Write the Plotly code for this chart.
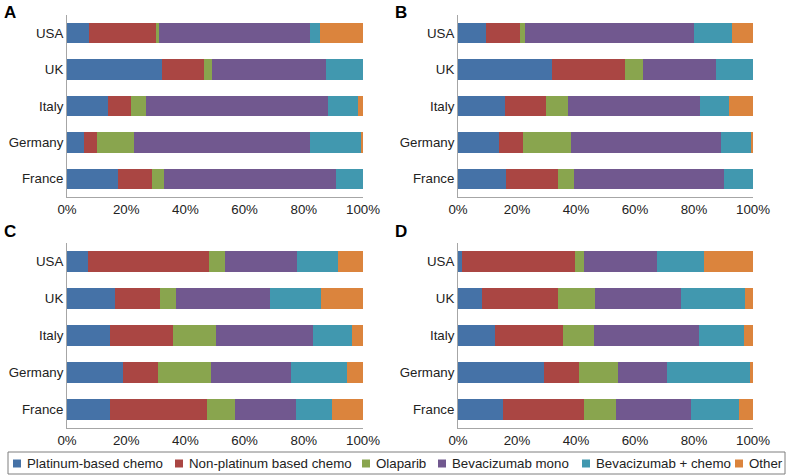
import plotly.graph_objects as go

countries = ["USA", "UK", "Italy", "Germany", "France"]
series_names = ["Platinum-based chemo", "Non-platinum based chemo", "Olaparib",
                "Bevacizumab mono", "Bevacizumab + chemo", "Other"]
colors = ["#4572A7", "#AA4643", "#89A54E", "#71588F", "#4198AF", "#DB843D"]

# values per series, countries in order USA, UK, Italy, Germany, France (percent)
A_platinum = [7.5, 32.1, 13.9, 5.8, 17.1]
A_nonplat = [22.6, 14.2, 7.6, 4.4, 11.7]
A_olaparib = [1.0, 2.7, 5.1, 12.4, 3.9]
A_bevmono = [51.0, 38.5, 61.5, 59.5, 58.2]
A_bevchemo = [3.5, 12.5, 10.2, 17.5, 9.1]
A_other = [14.4, 0.0, 1.7, 0.4, 0.0]

B_platinum = [9.6, 31.8, 15.8, 13.8, 16.3]
B_nonplat = [11.5, 24.7, 14.1, 8.2, 17.7]
B_olaparib = [1.7, 6.1, 7.5, 16.4, 5.3]
B_bevmono = [57.1, 24.8, 44.8, 50.9, 50.8]
B_bevchemo = [13.0, 12.6, 9.7, 10.2, 9.9]
B_other = [7.1, 0.0, 8.1, 0.5, 0.0]

C_platinum = [7.0, 16.2, 14.4, 18.8, 14.5]
C_nonplat = [41.1, 15.3, 21.3, 12.0, 32.9]
C_olaparib = [5.2, 5.3, 14.6, 17.8, 9.3]
C_bevmono = [24.4, 31.9, 32.8, 27.0, 20.7]
C_bevchemo = [13.9, 17.0, 13.1, 18.9, 12.0]
C_other = [8.4, 14.3, 3.8, 5.5, 10.6]

D_platinum = [1.2, 8.3, 12.4, 29.1, 15.2]
D_nonplat = [38.5, 25.6, 23.1, 11.9, 27.4]
D_olaparib = [2.9, 12.6, 10.6, 13.4, 11.0]
D_bevmono = [25.0, 29.2, 35.7, 16.4, 25.3]
D_bevchemo = [15.7, 21.6, 15.1, 28.2, 16.2]
D_other = [16.7, 2.7, 3.1, 1.0, 4.9]

panels = {
    "A": [A_platinum, A_nonplat, A_olaparib, A_bevmono, A_bevchemo, A_other],
    "B": [B_platinum, B_nonplat, B_olaparib, B_bevmono, B_bevchemo, B_other],
    "C": [C_platinum, C_nonplat, C_olaparib, C_bevmono, C_bevchemo, C_other],
    "D": [D_platinum, D_nonplat, D_olaparib, D_bevmono, D_bevchemo, D_other],
}
x_ticks = [0, 20, 40, 60, 80, 100]
x_tick_labels = ["0%", "20%", "40%", "60%", "80%", "100%"]

W, H = 790, 476
FONT = "Liberation Sans, Arial, sans-serif"
FS = 13.3

def fx(px):
    return px / W
def fy(py):
    return 1 - py / H

domains = {
    "A": ([67, 363], [15, 197]),
    "B": ([458, 753], [15, 197]),
    "C": ([67, 363], [243, 428]),
    "D": ([458, 753], [243, 428]),
}

fig = go.Figure()
layout = {}
for i, (label, vals) in enumerate(panels.items()):
    n = "" if i == 0 else str(i + 1)
    for s, (name, col, v) in enumerate(zip(series_names, colors, vals)):
        fig.add_trace(go.Bar(
            x=v, y=countries, orientation="h", name=name,
            marker=dict(color=col, line=dict(width=0)),
            xaxis="x" + n, yaxis="y" + n,
            legendgroup=name, showlegend=False,
            hovertemplate="%{y}: %{x}%<extra>" + name + "</extra>",
        ))
    (x0, x1), (y0, y1) = domains[label]
    layout["xaxis" + n] = dict(
        domain=[fx(x0), fx(x1)], anchor="y" + n, range=[0, 100],
        tickmode="array", tickvals=x_ticks, ticktext=x_tick_labels,
        showgrid=False, zeroline=False, automargin=False,
        showline=True, linecolor="#A6A6A6", linewidth=1,
        tickfont=dict(size=FS, color="#222"), fixedrange=True,
    )
    layout["yaxis" + n] = dict(
        domain=[fy(y1), fy(y0)], anchor="x" + n, autorange="reversed",
        showgrid=False, showline=True, linecolor="#A6A6A6", linewidth=1,
        tickfont=dict(size=FS, color="#222"), ticks="", ticklen=0,
        fixedrange=True, automargin=False,
    )

annotations = []
shapes = []
label_pos = {"A": (2, 12), "B": (393, 12), "C": (2, 231), "D": (393, 231)}
for label, (px, py) in label_pos.items():
    annotations.append(dict(
        text="<b>" + label + "</b>", x=fx(px), y=fy(py), xref="paper", yref="paper",
        xanchor="left", yanchor="middle", showarrow=False,
        font=dict(size=17, color="#000", family=FONT),
    ))

# legend drawn as a single row inside a box
shapes.append(dict(type="rect", xref="paper", yref="paper",
                   x0=fx(8), x1=fx(785), y0=fy(474), y1=fy(452),
                   line=dict(color="#7F7F7F", width=1), fillcolor="white"))
legend_sq_x = [13, 175, 362, 438, 582, 735]
ly = 463.5
for name, col, sx in zip(series_names, colors, legend_sq_x):
    shapes.append(dict(type="rect", xref="paper", yref="paper",
                       x0=fx(sx), x1=fx(sx + 8), y0=fy(ly + 4), y1=fy(ly - 4),
                       line=dict(width=0), fillcolor=col))
    annotations.append(dict(
        text=name, x=fx(sx + 12), y=fy(ly), xref="paper", yref="paper",
        xanchor="left", yanchor="middle", showarrow=False,
        font=dict(size=FS, color="#222", family=FONT),
    ))

fig.update_layout(
    **layout,
    width=W, height=H, barmode="stack", bargap=0.44,
    margin=dict(l=0, r=0, t=0, b=0, pad=0, autoexpand=False),
    paper_bgcolor="white", plot_bgcolor="white",
    font=dict(family=FONT, color="#222"),
    annotations=annotations, shapes=shapes,
    showlegend=False,
)

fig.write_html(
    "out.html",
    config={"displayModeBar": False, "staticPlot": False},
    post_script="document.body.style.margin='0';document.body.style.overflow='hidden';",
)
